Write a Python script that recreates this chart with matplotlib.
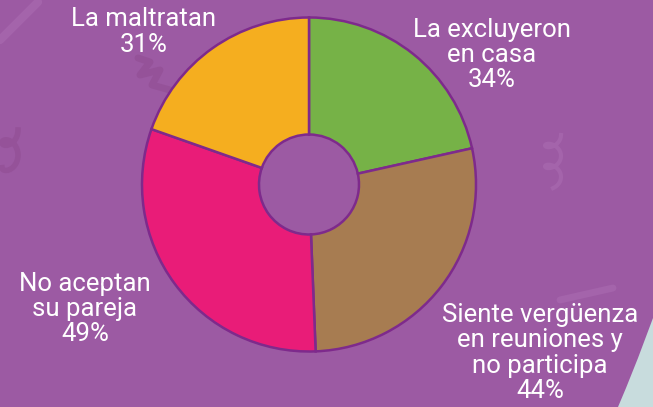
import numpy as np
import matplotlib
matplotlib.use('Agg')
import matplotlib.pyplot as plt
from matplotlib.patches import Polygon

# Data
categories = ['La excluyeron\nen casa', 'Siente vergüenza\nen reuniones y\nno participa',
              'No aceptan\nsu pareja', 'La maltratan']
values = [34, 44, 49, 31]
colors = ['#76b247', '#a77c51', '#e91c78', '#f5ae1f']

# label centres in pixel coords (x, y from top)
label_pos = [(492, 55), (540, 353), (85, 309), (144, 32)]

W, H = 653, 407
bg = '#9c5aa3'
edge = '#7e2a8c'

plt.rcParams['font.family'] = ['Roboto', 'DejaVu Sans']

fig = plt.figure(figsize=(W / 100, H / 100), dpi=100)
fig.patch.set_facecolor(bg)
ax = fig.add_axes([0, 0, 1, 1])
ax.set_facecolor(bg)

# faint background doodles
light, dark = '#a464ab', '#955299'
ax.plot([0, 38], [407 - 40, 407 - 2], c=light, lw=6, solid_capstyle='round', zorder=0)
ax.plot([138, 150, 140, 160, 152, 170], [407 - 58, 407 - 62, 407 - 75, 407 - 70, 407 - 85, 407 - 90],
        c=dark, lw=5, solid_capstyle='round', zorder=0)
t = np.linspace(0, 3 * np.pi, 80)
ax.plot(553 + 8 * np.cos(t * 1.5), 407 - (135 + t * 5 + 6 * np.sin(t * 1.5)),
        c=light, lw=3, zorder=0)
ax.plot([560, 613], [407 - 300, 407 - 288], c=light, lw=5, solid_capstyle='round', zorder=0)
ax.plot(10 + 8 * np.cos(t), 407 - (130 + 8 * np.sin(t) + t * 4), c=dark, lw=4, zorder=0)

# light blue corner
ax.add_patch(Polygon([[653, 407 - 318], [638, 407 - 358], [626, 407 - 388], [618, 0], [653, 0]],
                     closed=True, fc='#c8dcdd', ec='none', zorder=0))

ax.pie(values, colors=colors, startangle=90, counterclock=False,
       center=(309, H - 184.5), radius=167,
       wedgeprops=dict(width=117, edgecolor=edge, linewidth=1.8))

for txt, val, (x, y) in zip(categories, values, label_pos):
    ax.text(x, H - y, '{}\n{}%'.format(txt, val), ha='center', va='center',
            color='white', fontsize=18.5, linespacing=1.07, zorder=5)

ax.set_xlim(0, W)
ax.set_ylim(0, H)
ax.set_aspect('equal')
ax.axis('off')

fig.savefig('out.png', dpi=100, facecolor=bg)
